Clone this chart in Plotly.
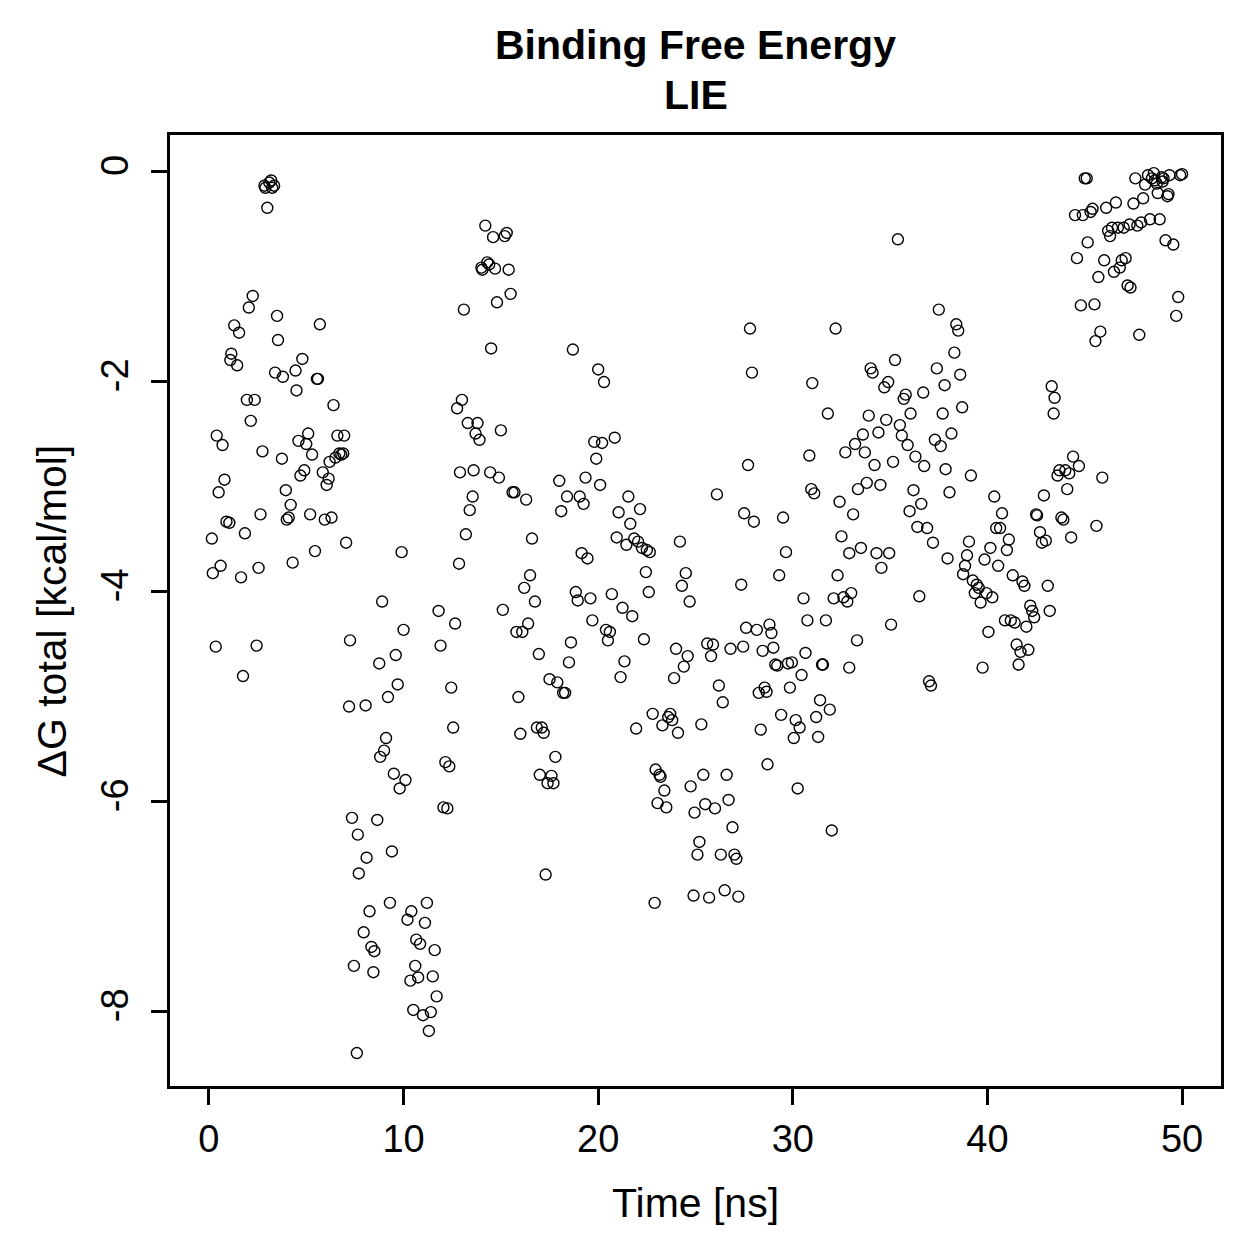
import plotly.graph_objects as go

# Time [ns] and dG total [kcal/mol]
time_a = [0.15, 0.2, 0.35, 0.4, 0.5, 0.6, 0.7, 0.8, 0.9, 1.05, 1.1, 1.15, 1.3, 1.45, 1.55, 1.65, 1.75, 1.85, 1.95, 2.05,
          2.15, 2.25, 2.35, 2.45, 2.55, 2.65, 2.75, 2.85, 2.9, 3.0, 3.1, 3.2, 3.25, 3.35, 3.5, 3.4, 3.55, 3.75, 3.8, 3.95,
          4.0, 4.1, 4.2, 4.3, 4.45, 4.5, 4.6, 4.7, 4.8, 4.9, 5.0, 5.1, 5.2, 5.3, 5.45, 5.55, 5.6, 5.7, 5.85, 5.95,
          6.05, 6.15, 6.2, 6.3, 6.4, 6.5, 6.6, 6.7, 6.8, 6.9, 6.95, 7.05]
dg_a = [-3.50, -3.83, -4.53, -2.52, -3.06, -3.76, -2.61, -2.94, -3.34, -3.35, -1.80, -1.74, -1.47, -1.85, -1.54, -3.87, -4.81, -3.45, -2.18, -1.30,
        -2.38, -1.19, -2.18, -4.52, -3.78, -3.27, -2.67, -0.14, -0.16, -0.35, -0.11, -0.09, -0.16, -0.14, -1.38, -1.92, -1.61, -2.74, -1.96, -3.04,
        -3.32, -3.30, -3.18, -3.73, -1.90, -2.09, -2.57, -2.90, -1.79, -2.85, -2.60, -2.50, -3.27, -2.70, -3.62, -1.98, -1.98, -1.46, -2.87, -3.32,
        -2.99, -2.93, -2.77, -3.30, -2.23, -2.73, -2.52, -2.69, -2.70, -2.69, -2.52, -3.54]

time_b = [7.25, 7.2, 7.35, 7.45, 7.65, 7.7, 7.6, 7.95, 8.05, 8.1, 8.25, 8.35, 8.45, 8.5, 8.65, 8.75, 8.9, 8.8, 9.0, 9.1,
          9.2, 9.3, 9.4, 9.5, 9.6, 9.7, 9.8, 9.9, 10.0, 10.1, 10.2, 10.35, 10.4, 10.5, 10.6, 10.65, 10.75, 10.85, 11.0, 11.1,
          11.2, 11.3, 11.4, 11.5, 11.6, 11.7, 11.8, 11.9, 12.05, 12.15, 12.25, 12.35, 12.45, 12.55, 12.65, 12.75, 12.85, 12.9, 13.0, 13.1,
          13.2, 13.3, 13.4, 13.55, 13.6, 13.7, 13.8, 13.9, 14.0, 14.05, 14.2, 14.3, 14.4, 14.5, 14.45, 14.6, 14.7, 14.8, 14.9, 15.0,
          15.1, 15.2, 15.3, 15.4, 15.5, 15.6, 15.7, 15.8, 15.9, 16.0, 16.1, 16.2, 16.3, 16.4, 16.5, 16.6, 16.75, 16.85, 16.95, 17.0,
          17.1, 17.2, 17.3, 17.4, 17.5, 17.6, 17.7, 17.8, 17.9, 18.0, 18.1, 18.2, 18.3, 18.4, 18.5, 18.6, 18.7, 18.85, 18.95, 19.05,
          19.15, 19.25, 19.35, 19.45, 19.6, 19.7, 19.8, 19.9, 20.0, 20.1, 20.2, 20.3, 20.4, 20.5, 20.6, 20.7, 20.85, 20.95, 21.05, 21.15,
          21.25, 21.35, 21.45, 21.55, 21.65, 21.75, 21.85, 21.95, 22.05, 22.15, 22.25, 22.35, 22.45, 22.5, 22.6, 22.65, 22.8, 22.9, 22.95, 23.05,
          23.15, 23.2, 23.3, 23.4, 23.5, 23.6, 23.7, 23.8, 23.9, 24.0, 24.1, 24.2, 24.3, 24.4, 24.5, 24.6, 24.7, 24.75, 24.9, 24.95]
dg_b = [-4.47, -5.10, -6.16, -7.57, -6.32, -6.69, -8.40, -7.25, -5.09, -6.54, -7.05, -7.39, -7.63, -7.43, -6.18, -4.69, -4.10, -5.58, -5.52, -5.40,
        -5.01, -6.97, -6.48, -5.74, -4.61, -4.89, -5.88, -3.63, -4.37, -5.80, -7.13, -7.71, -7.05, -7.99, -7.57, -7.32, -7.68, -7.36, -8.04, -7.16,
        -6.97, -8.19, -8.01, -7.67, -7.42, -7.86, -4.19, -4.52, -6.06, -5.63, -6.07, -5.67, -4.92, -5.30, -4.31, -2.26, -3.74, -2.87, -2.18, -1.32,
        -3.46, -2.40, -3.23, -3.10, -2.85, -2.50, -2.40, -2.56, -0.92, -0.94, -0.52, -0.87, -0.89, -1.69, -2.87, -0.63, -0.93, -1.25, -2.92, -2.47,
        -4.18, -0.62, -0.59, -0.94, -1.17, -3.06, -3.06, -4.39, -5.01, -5.36, -4.39, -3.97, -3.13, -4.31, -3.85, -3.50, -4.10, -5.30, -4.60, -5.75,
        -5.30, -5.35, -6.70, -5.83, -4.84, -5.76, -5.83, -5.58, -4.87, -2.95, -3.24, -4.97, -4.97, -3.10, -4.68, -4.49, -1.70, -4.01, -4.09, -3.10,
        -3.64, -3.17, -2.92, -3.69, -4.07, -4.28, -2.58, -2.74, -1.89, -2.99, -2.59, -2.01, -4.37, -4.47, -4.39, -4.03, -2.54, -3.49, -3.25, -4.82,
        -4.16, -4.67, -3.56, -3.10, -3.36, -4.24, -3.50, -5.31, -3.53, -3.22, -3.59, -4.46, -3.82, -3.61, -4.01, -3.63, -5.17, -6.97, -5.70, -6.02,
        -5.75, -5.77, -5.28, -5.90, -6.06, -5.20, -5.17, -5.23, -4.83, -4.55, -5.35, -3.53, -3.95, -4.72, -3.83, -4.62, -4.10, -5.86, -6.90, -6.11]

time_c = [25.1, 25.2, 25.3, 25.4, 25.5, 25.6, 25.7, 25.8, 25.9, 26.0, 26.1, 26.2, 26.3, 26.4, 26.5, 26.6, 26.7, 26.8, 26.9, 27.0,
          27.1, 27.2, 27.35, 27.45, 27.5, 27.6, 27.7, 27.8, 27.9, 28.0, 28.15, 28.25, 28.35, 28.45, 28.55, 28.65, 28.7, 28.8, 28.9, 29.0,
          29.1, 29.2, 29.3, 29.4, 29.5, 29.65, 29.75, 29.85, 29.95, 30.05, 30.15, 30.25, 30.35, 30.45, 30.55, 30.65, 30.75, 30.85, 30.95, 31.0,
          31.1, 31.2, 31.3, 31.4, 31.5, 31.55, 31.7, 31.8, 31.9, 32.0, 32.1, 32.2, 32.3, 32.4, 32.5, 32.6, 32.7, 32.8, 32.9, 32.9,
          33.0, 33.1, 33.2, 33.3, 33.35, 33.5, 33.6, 33.7, 33.8, 33.9, 34.0, 34.1, 34.2, 34.3, 34.4, 34.5, 34.55, 34.7, 34.8, 34.9,
          34.95, 35.05, 35.15, 35.25, 35.4, 35.5, 35.6, 35.7, 35.8, 35.9, 36.0, 36.05, 36.2, 36.3, 36.4, 36.5, 36.6, 36.7, 36.75, 36.9,
          37.0, 37.1, 37.2, 37.3, 37.4, 37.5, 37.6, 37.7, 37.8, 37.85, 37.95, 38.05, 38.15, 38.3, 38.4, 38.5, 38.6, 38.7, 38.75, 38.85,
          38.95, 39.05, 39.15, 39.25, 39.35, 39.45, 39.55, 39.65, 39.75, 39.85, 39.95, 40.05, 40.15, 40.25, 40.35, 40.45, 40.55, 40.65, 40.75, 40.9,
          41.0, 41.1, 41.2, 41.3, 41.4, 41.5, 41.6, 41.7, 41.8, 41.9, 42.0, 42.1, 42.2, 42.3, 42.4, 42.5, 42.55, 42.7, 42.8, 42.9,
          43.0, 43.1, 43.2, 43.3, 43.4, 43.45, 43.6, 43.7, 43.8, 43.9, 44.0, 44.1, 44.2, 44.3, 44.4]
dg_c = [-6.51, -6.39, -5.27, -5.75, -6.03, -4.50, -6.92, -4.62, -4.51, -6.07, -3.08, -4.90, -6.51, -5.06, -6.85, -5.75, -5.99, -4.55, -6.25, -6.51,
        -6.55, -6.91, -3.94, -4.53, -3.26, -4.35, -2.80, -1.50, -1.92, -3.34, -4.37, -4.97, -5.32, -4.57, -4.92, -4.96, -5.65, -4.32, -4.40, -4.54,
        -4.70, -4.71, -3.85, -5.18, -3.30, -3.63, -4.69, -4.92, -4.68, -5.40, -5.23, -5.88, -5.30, -4.80, -4.07, -4.59, -4.28, -2.71, -3.03, -2.02,
        -3.07, -5.20, -5.39, -5.04, -4.70, -4.70, -4.28, -2.31, -5.13, -6.28, -4.07, -1.50, -3.85, -3.15, -3.48, -4.06, -2.68, -4.10, -3.64, -4.73,
        -4.02, -3.27, -2.60, -4.47, -3.03, -3.59, -2.51, -2.68, -2.97, -2.33, -1.88, -1.92, -2.80, -3.64, -2.49, -2.99, -3.78, -2.06, -2.37, -2.01,
        -3.64, -4.32, -2.77, -1.80, -0.65, -2.42, -2.52, -2.17, -2.13, -2.61, -3.24, -2.31, -3.04, -2.72, -3.39, -4.05, -3.17, -2.11, -2.81, -3.40,
        -4.86, -4.90, -3.54, -2.56, -1.88, -1.32, -2.62, -2.31, -2.04, -2.84, -3.69, -3.06, -2.50, -1.73, -1.46, -1.52, -1.94, -2.25, -3.84, -3.76,
        -3.66, -3.53, -2.90, -3.90, -4.02, -3.94, -3.97, -4.11, -4.73, -3.70, -4.02, -4.39, -3.59, -4.06, -3.10, -3.40, -3.76, -3.40, -3.26, -4.28,
        -3.61, -3.51, -4.28, -3.85, -4.30, -4.51, -4.70, -4.58, -3.91, -3.95, -4.34, -4.56, -4.14, -4.19, -4.25, -3.27, -3.28, -3.44, -3.54, -3.09,
        -3.52, -3.95, -4.19, -2.05, -2.31, -2.16, -2.90, -2.85, -3.30, -3.32, -2.85, -3.03, -2.88, -3.49, -2.72]

time_d = [44.5, 44.6, 44.7, 44.8, 44.9, 45.0, 45.1, 45.15, 45.3, 45.4, 45.5, 45.55, 45.7, 45.8, 45.9, 45.6, 46.0, 46.1, 46.2, 46.3,
          46.4, 46.5, 46.6, 46.7, 46.8, 46.9, 47.0, 47.1, 47.2, 47.3, 47.35, 47.5, 47.6, 47.7, 47.8, 47.9, 48.0, 48.1, 48.25, 48.35,
          48.45, 48.55, 48.6, 48.75, 48.85, 48.95, 49.05, 49.15, 49.25, 49.35, 49.55, 49.7, 49.8, 49.9, 50.0, 48.7, 49.0, 49.3]
dg_d = [-0.42, -0.83, -2.81, -1.28, -0.42, -0.07, -0.07, -0.68, -0.39, -0.36, -1.27, -1.62, -1.01, -1.53, -2.92, -3.38, -0.85, -0.35, -0.57, -0.62,
        -0.54, -0.96, -0.30, -0.54, -0.92, -0.85, -0.54, -0.83, -1.09, -0.51, -1.11, -0.31, -0.07, -0.52, -1.56, -0.49, -0.26, -0.13, -0.04, -0.46,
        -0.07, -0.02, -0.09, -0.21, -0.46, -0.06, -0.07, -0.66, -0.24, -0.04, -0.70, -1.38, -1.20, -0.04, -0.03, -0.12, -0.10, -0.22]

time_ns = time_a + time_b + time_c + time_d
dg_total = dg_a + dg_b + dg_c + dg_d

x_ticks = [0, 10, 20, 30, 40, 50]
x_tick_labels = ["0", "10", "20", "30", "40", "50"]
y_ticks = [0, -2, -4, -6, -8]
y_tick_labels = ["0", "-2", "-4", "-6", "-8"]

FONT = "Liberation Sans, Arial, Helvetica, sans-serif"

fig = go.Figure()
fig.add_trace(go.Scatter(
    x=time_ns, y=dg_total, mode="markers",
    marker=dict(symbol="circle-open", size=11, color="black", line=dict(width=1.4, color="black")),
    showlegend=False, hoverinfo="x+y",
))

axis_common = dict(
    showgrid=False, zeroline=False, showline=True, linecolor="black", linewidth=2.5,
    mirror=True, ticks="outside", ticklen=16, tickwidth=2.5, tickcolor="black",
    tickfont=dict(family=FONT, size=38, color="black"),
)

fig.update_layout(
    width=1259, height=1259,
    margin=dict(l=170, r=38, t=135, b=173),
    paper_bgcolor="white", plot_bgcolor="white",
    font=dict(family=FONT, color="black"),
    xaxis=dict(range=[-2, 52], tickvals=x_ticks, ticktext=x_tick_labels, ticklabelstandoff=2, **axis_common),
    yaxis=dict(range=[-8.714, 0.343], tickvals=y_ticks, ticktext=y_tick_labels, tickangle=-90,
               ticklabelstandoff=8, **axis_common),
    annotations=[
        dict(text="<b>Binding Free Energy</b>", x=0.5, y=1.0946, xref="paper", yref="paper",
             xanchor="center", yanchor="middle", showarrow=False, font=dict(family=FONT, size=41, color="black")),
        dict(text="<b>LIE</b>", x=0.5, y=1.0421, xref="paper", yref="paper",
             xanchor="center", yanchor="middle", showarrow=False, font=dict(family=FONT, size=41, color="black")),
        dict(text="Time [ns]", x=0.5, y=-0.123, xref="paper", yref="paper",
             xanchor="center", yanchor="middle", showarrow=False, font=dict(family=FONT, size=41, color="black")),
        dict(text="ΔG total [kcal/mol]", x=-0.1123, y=0.5, xref="paper", yref="paper", textangle=-90,
             xanchor="center", yanchor="middle", showarrow=False, font=dict(family=FONT, size=41, color="black")),
    ],
)

fig.write_html("out.html")
